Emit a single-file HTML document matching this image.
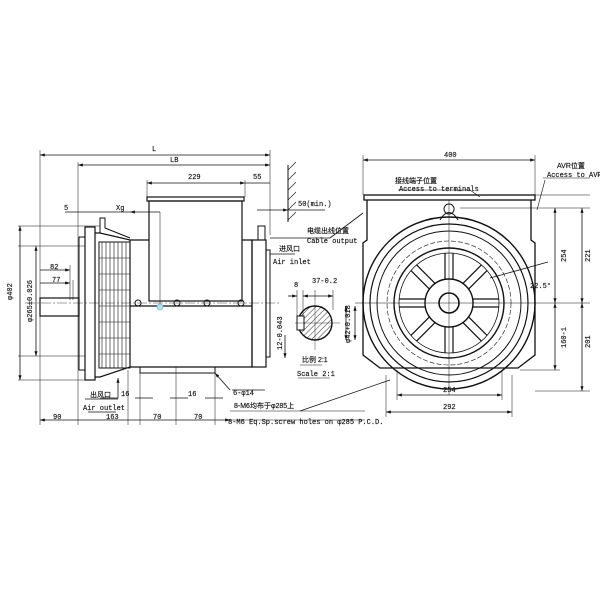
<!DOCTYPE html>
<html><head><meta charset="utf-8"><style>
html,body{margin:0;padding:0;background:#fff}
svg{display:block}
text{font-family:"Liberation Mono","Noto Sans CJK SC",monospace;font-size:7px;fill:#111;stroke:#111;stroke-width:0.15}
.cj{font-family:"Liberation Sans","Noto Sans CJK SC",sans-serif;font-size:7px}
</style></head><body>
<svg width="600" height="600" viewBox="0 0 600 600" xmlns="http://www.w3.org/2000/svg">
<defs>
<pattern id="h" width="4" height="4" patternUnits="userSpaceOnUse" patternTransform="rotate(45)"><line x1="0" y1="0" x2="0" y2="4" stroke="#333" stroke-width="1"/></pattern>
<marker id="a" markerWidth="6" markerHeight="4" refX="6" refY="2" orient="auto-start-reverse"><path d="M0,0L6,2L0,4z" fill="#111"/></marker>
</defs>
<g stroke="#111" fill="none" stroke-width="0.8">
<line x1="40" y1="155" x2="270" y2="155" marker-start="url(#a)" marker-end="url(#a)"/>
<line x1="40" y1="150" x2="40" y2="425" stroke-width="0.5"/>
<line x1="270" y1="150" x2="270" y2="235" stroke-width="0.5"/>
<line x1="78" y1="165" x2="270" y2="165" marker-start="url(#a)" marker-end="url(#a)"/>
<line x1="78" y1="162" x2="78" y2="425" stroke-width="0.5"/>
<line x1="147" y1="183" x2="245" y2="183" marker-start="url(#a)" marker-end="url(#a)"/>
<line x1="245" y1="183" x2="270" y2="183"/>
<line x1="147" y1="180" x2="147" y2="197" stroke-width="0.5"/>
<line x1="245" y1="180" x2="245" y2="197" stroke-width="0.5"/>
<line x1="65" y1="212" x2="130" y2="212"/>
<line x1="130" y1="212" x2="160" y2="212" marker-start="url(#a)"/>
<line x1="160" y1="212" x2="160" y2="305" stroke-width="0.5"/>
<line x1="288" y1="165" x2="288" y2="222" stroke-width="1"/>
<path d="M288,170l8,-8M288,180l8,-8M288,190l8,-8M288,200l8,-8M288,210l8,-8M288,220l8,-8" stroke-width="0.6"/>
<line x1="257" y1="210" x2="288" y2="210" marker-end="url(#a)"/>
<line x1="288" y1="210" x2="325" y2="210"/>
<rect x="147" y="197" width="97" height="4" stroke-width="1.2"/>
<rect x="149" y="201" width="93" height="100" stroke-width="1.2"/>
<path d="M130,240H149M242,240H252V367H140M130,367H250" stroke-width="1.2"/>
<line x1="130" y1="306" x2="252" y2="306" stroke-width="1.2"/>
<rect x="252" y="240" width="14" height="127" stroke-width="1.2"/>
<rect x="258" y="226" width="7" height="14" stroke-width="1"/>
<path d="M266,250H270V357H266" stroke-width="1"/>
<rect x="85" y="227" width="10" height="153" stroke-width="1.2"/>
<rect x="79" y="237" width="6" height="133" stroke-width="1"/>
<path d="M95,233H100L130,240V367L100,377H95" stroke-width="1.2"/>
<rect x="99" y="242" width="31" height="126" stroke-width="1"/>
<path d="M102,242V368M106,242V368M110,242V368M114,242V368M118,242V368M122,242V368M126,242V368" stroke-width="0.6"/>
<path d="M99,258H130M99,274H130M99,290H130M99,306H130M99,322H130M99,338H130M99,354H130" stroke-width="0.6"/>
<path d="M100,233V218H105V228L130,238" stroke-width="1"/>
<rect x="40" y="298" width="39" height="18" stroke-width="1.2"/>
<line x1="25" y1="303" x2="280" y2="303" stroke-width="0.4" stroke-dasharray="10,2,2,2"/>
<g stroke-width="1"><circle cx="138" cy="303" r="3"/><circle cx="177" cy="303" r="3"/><circle cx="207" cy="303" r="3"/><circle cx="241" cy="303" r="3"/></g>
<circle cx="160" cy="307" r="3" stroke="#7bc" fill="#bde"/>
<rect x="140" y="367" width="75" height="6" stroke-width="1"/>
<line x1="176" y1="367" x2="176" y2="425" stroke-width="0.5"/>
<line x1="140" y1="373" x2="140" y2="425" stroke-width="0.5"/>
<line x1="215" y1="373" x2="215" y2="425" stroke-width="0.5"/>
<line x1="128" y1="370" x2="128" y2="425" stroke-width="0.5"/>
<path d="M18,226H100M18,246H85M18,356H85M18,380H85" stroke-width="0.5"/>
<line x1="20" y1="226" x2="20" y2="380" marker-start="url(#a)" marker-end="url(#a)"/>
<line x1="36" y1="246" x2="36" y2="356" marker-start="url(#a)" marker-end="url(#a)"/>
<line x1="40" y1="270" x2="70" y2="270" marker-end="url(#a)"/>
<line x1="40" y1="283" x2="70" y2="283" marker-end="url(#a)"/>
<path d="M70,265V300M73,280V300" stroke-width="0.5"/>
<line x1="40" y1="420" x2="230" y2="420" marker-start="url(#a)" marker-end="url(#a)"/>
<path d="M100,398H118M135,398H153M170,398H188M205,398H223" stroke-width="0.7"/>
<path d="M85,399H118M88,412H116" stroke-width="0.7"/>
<line x1="118" y1="398" x2="118" y2="378" marker-end="url(#a)"/>
<line x1="230" y1="390" x2="215" y2="373" marker-end="url(#a)"/>
<line x1="232" y1="390" x2="265" y2="390"/>
<path d="M230,411H365M230,420H365" stroke-width="0.5"/>
<line x1="300" y1="411" x2="390" y2="380"/>
<line x1="270" y1="254" x2="295" y2="254"/>
<line x1="270" y1="238" x2="330" y2="238"/>
<line x1="330" y1="238" x2="363" y2="213"/>
<circle cx="315" cy="323" r="17" fill="url(#h)" stroke-width="1.4"/>
<rect x="297" y="316" width="7" height="14" fill="#fff" stroke-width="1"/>
<path d="M295,323H340M315,300V350" stroke-width="0.4"/>
<path d="M297,290V316M303,290V316M315,290V300M333,290V310" stroke-width="0.5"/>
<line x1="288" y1="296" x2="297" y2="296" marker-end="url(#a)"/>
<line x1="303" y1="296" x2="333" y2="296" marker-start="url(#a)" marker-end="url(#a)"/>
<line x1="346" y1="306" x2="346" y2="340" marker-start="url(#a)" marker-end="url(#a)"/>
<line x1="355" y1="306" x2="355" y2="340" marker-start="url(#a)" marker-end="url(#a)"/>
<line x1="285" y1="335" x2="285" y2="358" marker-end="url(#a)"/>
<path d="M300,365H322M298,378H330" stroke-width="0.6"/>
<line x1="363" y1="160" x2="535" y2="160" marker-start="url(#a)" marker-end="url(#a)"/>
<path d="M363,155V195M535,155V195" stroke-width="0.5"/>
<rect x="364" y="195" width="171" height="5" stroke-width="1.3"/>
<path d="M367,200V240L363,243V355L380,368H518L535,355V243L531,240V200" stroke-width="1.3"/>
<path d="M449,214a5,5 0 1,1 0.1,0" stroke-width="1"/>
<path d="M440,220Q449,205 458,220" stroke-width="1"/>
<circle cx="449" cy="303" r="86" stroke-width="1.4"/>
<circle cx="449" cy="303" r="79" stroke-width="1.2"/>
<circle cx="449" cy="303" r="72" stroke-width="1"/>
<circle cx="449" cy="303" r="62" stroke-width="0.6" stroke-dasharray="5,2"/>
<circle cx="449" cy="303" r="55" stroke-width="1.4"/>
<circle cx="449" cy="303" r="50" stroke-width="0.8"/>
<circle cx="449" cy="303" r="24" stroke-width="1.4"/>
<circle cx="449" cy="303" r="10" stroke-width="1.6"/>
<g stroke-width="1.2">
<g id="sp"><path d="M445,280V253M453,280V253"/></g>
<use href="#sp" transform="rotate(45 449 303)"/><use href="#sp" transform="rotate(90 449 303)"/><use href="#sp" transform="rotate(135 449 303)"/><use href="#sp" transform="rotate(180 449 303)"/><use href="#sp" transform="rotate(225 449 303)"/><use href="#sp" transform="rotate(270 449 303)"/><use href="#sp" transform="rotate(315 449 303)"/>
</g>
<path d="M449,200V395M355,303H590" stroke-width="0.5"/>
<path d="M397,370V400M502,370V400M386,375V417M512,375V417" stroke-width="0.5"/>
<line x1="397" y1="395" x2="502" y2="395" marker-start="url(#a)" marker-end="url(#a)"/>
<line x1="386" y1="412" x2="512" y2="412" marker-start="url(#a)" marker-end="url(#a)"/>
<path d="M535,195H590M460,208H590M535,391H590M520,370H560" stroke-width="0.5"/>
<line x1="555" y1="208" x2="555" y2="303" marker-start="url(#a)" marker-end="url(#a)"/>
<line x1="582" y1="208" x2="582" y2="303" marker-start="url(#a)" marker-end="url(#a)"/>
<line x1="555" y1="303" x2="555" y2="370" marker-start="url(#a)" marker-end="url(#a)"/>
<line x1="582" y1="303" x2="582" y2="391" marker-start="url(#a)" marker-end="url(#a)"/>
<line x1="490" y1="278" x2="548" y2="262"/>
<path d="M398,190H470L480,197M545,180L537,210" stroke-width="0.6"/>
<path d="M543,178H590" stroke-width="0.6"/>
</g>
<g>
<text x="152" y="151">L</text>
<text x="170" y="162">LB</text>
<text x="188" y="179">229</text>
<text x="253" y="179">55</text>
<text x="64" y="210">5</text>
<text x="116" y="210">Xg</text>
<text x="298" y="206">50(min.)</text>
<text x="307" y="233" class="cj">电缆出线位置</text>
<text x="307" y="243">Cable output</text>
<text x="279" y="251" class="cj">进风口</text>
<text x="273" y="264">Air inlet</text>
<text x="50" y="269">82</text>
<text x="52" y="282">77</text>
<text x="294" y="287">8</text>
<text x="312" y="283">37-0.2</text>
<text x="90" y="397" class="cj">出风口</text>
<text x="83" y="410">Air outlet</text>
<text x="121" y="396">16</text>
<text x="188" y="396">16</text>
<text x="233" y="395">6-φ14</text>
<text x="234" y="408" class="cj">8-M6均布于φ285上</text>
<text x="228" y="424">8-M6 Eq.Sp.screw holes on φ285 P.C.D.</text>
<text x="53" y="419">90</text>
<text x="106" y="419">163</text>
<text x="153" y="419">70</text>
<text x="194" y="419">70</text>
<text x="302" y="362" class="cj">比例 2:1</text>
<text x="297" y="376">Scale 2:1</text>
<text x="444" y="157">400</text>
<text x="395" y="183" class="cj">接线端子位置</text>
<text x="399" y="191">Access to terminals</text>
<text x="557" y="168" class="cj">AVR位置</text>
<text x="547" y="177">Access to AVR</text>
<text x="530" y="288">22.5°</text>
<text x="443" y="392">254</text>
<text x="443" y="409">292</text>
<g transform="rotate(-90)">
<text x="-300" y="12">φ402</text>
<text x="-322" y="32">φ265±0.026</text>
<text x="-343" y="350">φ42+0.018</text>
<text x="-350" y="282">12-0.043</text>
<text x="-262" y="566">254</text>
<text x="-262" y="590">221</text>
<text x="-348" y="566">160-1</text>
<text x="-348" y="590">201</text>
</g>
</g>
</svg>
</body></html>
